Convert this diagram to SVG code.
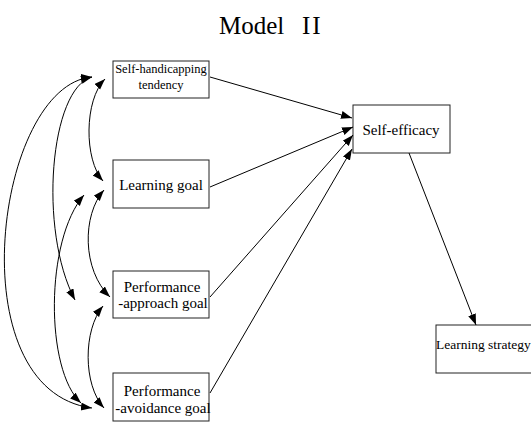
<svg xmlns="http://www.w3.org/2000/svg" width="531" height="422" viewBox="0 0 531 422">
<style>
.box{fill:#fff;stroke:#222;stroke-width:1}
.t{font-family:"Liberation Serif","Times New Roman",serif;fill:#000;text-anchor:middle}
.c{fill:none;stroke:#000;stroke-width:1}
</style>
<defs>
<marker id="ah" markerUnits="userSpaceOnUse" markerWidth="12" markerHeight="9" refX="11" refY="4" orient="auto-start-reverse">
<path d="M0,0 L11,4 L0,8 z" fill="#000"/>
</marker>
</defs>
<rect width="531" height="422" fill="#fff"/>
<text class="t" x="219" y="34" style="text-anchor:start;font-size:25px">Model<tspan x="302" letter-spacing="2">II</tspan></text>
<g id="n-sh"><rect class="box" x="113" y="61" width="96" height="37"/><text class="t" x="161" y="73" font-size="12.5">Self-handicapping</text><text class="t" x="161" y="89" font-size="12.5">tendency</text></g>
<g id="n-lg"><rect class="box" x="113" y="160" width="96" height="48"/><text class="t" x="161" y="190" font-size="15">Learning goal</text></g>
<g id="n-pa"><rect class="box" x="113" y="271" width="96" height="47"/><text class="t" x="162" y="292" font-size="15">Performance</text><text class="t" x="163" y="308" font-size="15">-approach goal</text></g>
<g id="n-pav"><rect class="box" x="113" y="373" width="96" height="48"/><text class="t" x="162" y="396" font-size="15">Performance</text><text class="t" x="163" y="413" font-size="15">-avoidance goal</text></g>
<g id="n-se"><rect class="box" x="353" y="105" width="97" height="48"/><text class="t" x="401" y="135" font-size="15">Self-efficacy</text></g>
<g id="n-ls"><rect class="box" x="436" y="325" width="100" height="48"/><text class="t" x="436" y="349" font-size="13.5" style="text-anchor:start">Learning strategy</text></g>
<g id="connectors" class="c">
<path class="c" d="M210,77 L352,118" marker-end="url(#ah)"/>
<path class="c" d="M210,187 L353,127" marker-end="url(#ah)"/>
<path class="c" d="M210,297 L353,135" marker-end="url(#ah)"/>
<path class="c" d="M210,393 L352,149" marker-end="url(#ah)"/>
<path class="c" d="M409,153 L476,325" marker-end="url(#ah)"/>
<path class="c" d="M105,79 C84,100 84,160 103,181" marker-start="url(#ah)" marker-end="url(#ah)"/>
<path class="c" d="M104,190 C82,215 82,270 110,297" marker-start="url(#ah)" marker-end="url(#ah)"/>
<path class="c" d="M103,306 C83,330 83,385 104,408" marker-start="url(#ah)" marker-end="url(#ah)"/>
<path class="c" d="M92,77 C50,88 38,230 75,300" marker-start="url(#ah)" marker-end="url(#ah)"/>
<path class="c" d="M92,77 C-4,85 -44,390 92,408" marker-start="url(#ah)" marker-end="url(#ah)"/>
<path class="c" d="M84,195 C45,240 45,370 81,403" marker-start="url(#ah)" marker-end="url(#ah)"/>
</g>
</svg>
